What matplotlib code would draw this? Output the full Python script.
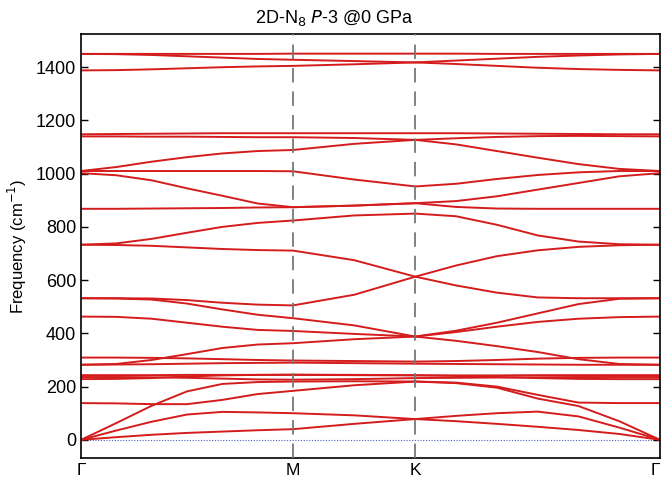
import numpy as np
import matplotlib
matplotlib.use("Agg")
import matplotlib.pyplot as plt

plt.rcParams['font.family'] = ['Liberation Sans', 'DejaVu Sans']

# high-symmetry path G-M-K-G (hexagonal, units of 2pi/a)
kpath_labels = ['Γ', 'M', 'K', 'Γ']
seg_lengths = [1 / np.sqrt(3), 1 / 3, 2 / 3]
seg_steps = [6, 2, 6]

# frequencies (cm-1) along the path: 7 points G->M, 2 points M->K, 6 points K->G
ac1 = [0, 10, 19, 26, 31, 36, 40, 60, 78, 70, 60, 49, 37, 22, 0]
ac2 = [0, 35, 68, 95, 105, 103, 100, 92, 78, 90, 100, 106, 88, 46, 0]
ac3 = [0, 63, 128, 182, 210, 217, 219, 220, 219, 213, 196, 155, 127, 70, 0]
opt_140 = [138, 137, 134, 134, 150, 172, 184, 205, 219, 215, 200, 169, 140, 138, 138]
opt_243 = [243, 243, 243, 244, 244, 244, 244, 243, 242, 242, 242, 243, 243, 243, 243]
opt_236 = [236, 236, 235, 233, 230, 227, 226, 228, 232, 233, 234, 235, 236, 236, 236]
opt_228 = [228, 229, 232, 238, 242, 244, 245, 244, 243, 240, 236, 232, 229, 228, 228]
opt_282a = [282, 283, 284, 286, 288, 289, 290, 288, 286, 285, 284, 283, 282, 282, 282]
opt_309 = [309, 309, 308, 306, 303, 300, 298, 296, 294, 296, 300, 305, 308, 309, 309]
opt_282b = [282, 285, 300, 322, 345, 358, 363, 378, 388, 372, 352, 330, 303, 285, 282]
opt_463 = [463, 462, 455, 440, 425, 413, 409, 398, 388, 405, 425, 443, 455, 461, 463]
opt_532a = [532, 531, 527, 512, 490, 470, 457, 430, 388, 410, 440, 475, 510, 530, 532]
opt_532b = [532, 532, 531, 525, 515, 508, 505, 545, 613, 580, 553, 535, 532, 532, 532]
opt_733a = [733, 732, 729, 723, 717, 713, 711, 675, 613, 655, 690, 712, 725, 731, 733]
opt_733b = [733, 738, 755, 778, 800, 815, 824, 843, 850, 840, 808, 768, 745, 735, 733]
opt_868 = [868, 868, 869, 870, 871, 873, 874, 880, 889, 875, 869, 868, 868, 868, 868]
opt_1002 = [1002, 994, 975, 945, 917, 888, 874, 880, 889, 897, 915, 940, 965, 990, 1002]
opt_1010a = [1010, 1010, 1010, 1010, 1010, 1010, 1009, 978, 952, 962, 980, 995, 1005, 1010, 1010]
opt_1010b = [1010, 1025, 1045, 1062, 1076, 1085, 1089, 1112, 1127, 1110, 1085, 1060, 1036, 1018, 1010]
opt_1140 = [1140, 1140, 1139, 1139, 1138, 1137, 1137, 1134, 1127, 1133, 1138, 1141, 1142, 1141, 1140]
opt_1148 = [1148, 1149, 1150, 1151, 1152, 1152, 1152, 1152, 1152, 1152, 1151, 1150, 1149, 1148, 1148]
opt_1388 = [1388, 1389, 1392, 1396, 1400, 1403, 1405, 1411, 1418, 1412, 1405, 1398, 1393, 1390, 1388]
opt_1450a = [1450, 1449, 1446, 1441, 1436, 1431, 1428, 1423, 1418, 1425, 1432, 1439, 1444, 1448, 1450]
opt_1450b = [1450, 1450, 1450, 1450, 1450, 1450, 1451, 1451, 1451, 1451, 1450, 1450, 1450, 1450, 1450]

bands = [ac1, ac2, ac3, opt_140, opt_243, opt_236, opt_228, opt_282a, opt_309,
         opt_282b, opt_463, opt_532a, opt_532b, opt_733a, opt_733b, opt_868,
         opt_1002, opt_1010a, opt_1010b, opt_1140, opt_1148, opt_1388,
         opt_1450a, opt_1450b]

# build k coordinates from the segment lengths
k = [0.0]
nodes = [0.0]
for length, steps in zip(seg_lengths, seg_steps):
    start = nodes[-1]
    k.extend(start + np.linspace(0, length, steps + 1)[1:])
    nodes.append(start + length)
k = np.array(k)

fig = plt.figure(figsize=(6.62, 4.78), dpi=100)
ax = fig.add_axes([0.1224, 0.042, 0.8746, 0.887])

for band in bands:
    ax.plot(k, band, color='#d41c1c', lw=1.4, solid_joinstyle='round', zorder=2)

for xn in nodes[1:-1]:
    ax.axvline(xn, color='#777777', lw=1.3, linestyle=(0, (8, 5)), zorder=3)
ax.axhline(0, color='#4a5ab8', lw=0.8, linestyle=(0, (1, 1.5)), zorder=1)

ax.set_xlim(nodes[0], nodes[-1])
ax.set_ylim(-68, 1525)
ax.set_xticks(nodes)
ax.set_xticklabels(kpath_labels, fontsize=12.5)
ax.get_xticklabels()[-1].set_horizontalalignment('right')
ax.tick_params(axis='x', length=0, pad=4)
ax.set_yticks(np.arange(0, 1401, 200))
ax.tick_params(axis='y', direction='in', length=5, labelsize=13, right=True, width=1)
for s in ax.spines.values():
    s.set_linewidth(1.2)

ax.set_ylabel('Frequency (cm$^{-1}$)', fontsize=12, labelpad=5)
fig.text(0.505, 0.962, '2D-N$_8$ $P$-3 @0 GPa', fontsize=13, ha='center', va='center')

fig.savefig('out.png', dpi=100)
